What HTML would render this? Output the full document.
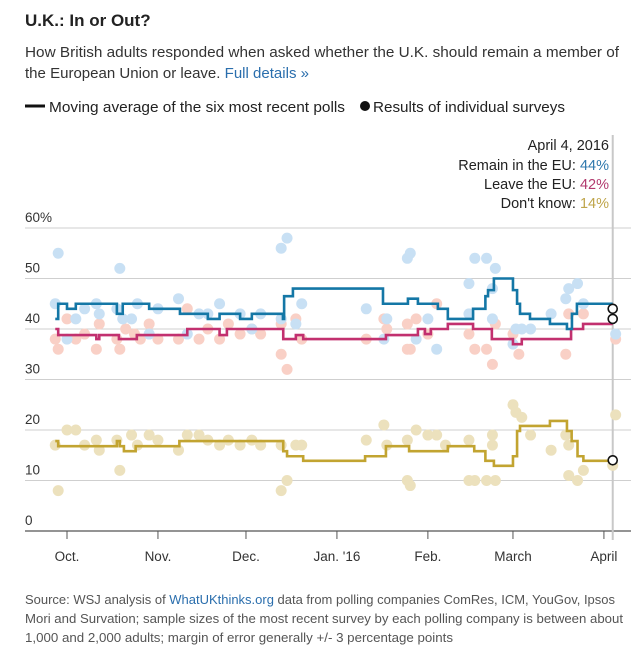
<!DOCTYPE html>
<html><head><meta charset="utf-8"><style>
html,body{margin:0;padding:0;background:#fff;width:640px;height:654px;overflow:hidden}
svg{display:block;font-family:"Liberation Sans",sans-serif}
</style></head><body>
<svg id="chart" width="640" height="654" viewBox="0 0 640 654">
<text x="25" y="26" font-size="17" font-weight="bold" fill="#222">U.K.: In or Out?</text>
<text x="25" y="57" font-size="14.5" fill="#333" textLength="594" lengthAdjust="spacingAndGlyphs">How British adults responded when asked whether the U.K. should remain a member of</text>
<text x="25" y="78" font-size="14.5" fill="#333" textLength="284" lengthAdjust="spacingAndGlyphs">the European Union or leave. <tspan fill="#2a6ead">Full details »</tspan></text>
<g>
<line x1="25" y1="106" x2="45" y2="106" stroke="#111" stroke-width="3"/>
<text x="49" y="112" font-size="14.5" fill="#222" textLength="296" lengthAdjust="spacingAndGlyphs">Moving average of the six most recent polls</text>
<circle cx="365" cy="106" r="5" fill="#111"/>
<text x="373" y="112" font-size="14.5" fill="#222" textLength="192" lengthAdjust="spacingAndGlyphs">Results of individual surveys</text>
</g>
<g font-size="14.5" fill="#222" text-anchor="end">
<text x="609" y="150">April 4, 2016</text>
<text x="609" y="170">Remain in the EU: <tspan fill="#2f78ad">44%</tspan></text>
<text x="609" y="189">Leave the EU: <tspan fill="#b23a6e">42%</tspan></text>
<text x="609" y="208">Don't know: <tspan fill="#bfa54a">14%</tspan></text>
</g>
<g id="plot"></g>
<g font-size="12.5" fill="#555">
<text x="25" y="604" textLength="590" lengthAdjust="spacingAndGlyphs">Source: WSJ analysis of <tspan fill="#2a6ead">WhatUKthinks.org</tspan> data from polling companies ComRes, ICM, YouGov, Ipsos</text>
<text x="25" y="623" textLength="598" lengthAdjust="spacingAndGlyphs">Mori and Survation; sample sizes of the most recent survey by each polling company is between about</text>
<text x="25" y="642" textLength="428" lengthAdjust="spacingAndGlyphs">1,000 and 2,000 adults; margin of error generally +/- 3 percentage points</text>
</g>
</svg>
<script>
// Days since Oct 1, 2015
const yTicks = [0,10,20,30,40,50,60];
const monthLabels = ["Oct.","Nov.","Dec.","Jan. '16","Feb.","March","April"];
const monthDays = [0,31,61,92,123,152,183];
const remainDays = [-4,-3,0,3,17,19,28,38.5,45,48,52,59,63,73.6,74,77,107.7,116.2,119.6,126.4,129.8,138.4,142.6,143.5,145.5,152,153.4,154.4,157.8,164.6,170.4,172.1,173.8];
const remainAvg = [42,45,44,45,43,45,44,43,43,42,43,42,43,42,46.5,48,45,46,45,44,42,44,46.5,47.7,50,47.7,45,43,42,41,40,43,45];
const leaveDays = [-4,-3,10,11,17.7,23.8,41,52,54.5,73.7,78,80.5,108.7,119.6,122,124,129.8,138.4,144.8,152,155,171.8,175.9];
const leaveAvg = [40,38.8,38,38.8,38,38.8,40,38.8,40,38,38.8,38,38.8,40,39,40,41,40,38,37,38,40,41];
const dkDays = [-4,-3,17,18,19.4,23.4,38.3,73.7,75,80.5,101.6,108.7,116.6,129.8,138.8,142.6,145.5,152,153.4,154.4,164.6,170.4,172,174,176];
const dkAvg = [17.8,16.8,17.8,16.8,15.8,16.8,17.8,15.8,14.8,13.9,14.8,16.8,15.8,16.8,15.8,13.9,12.9,14.8,19.8,20.8,21.8,19.8,17.8,14.8,13.9];
const endDay = 186;
const endValues = [44,42,14];
const remainDotDays = [-3,-4,3,0,6,10,11,18,17,19,22,24,28,31,38,41,45,48,52,59,63,66,73,75,73,78,80,102,108,109,116,117,119,123,126,137,137,139,143,145,146,145,152,153,155,158,165,170,171,174,176,187];
const remainDotVals = [55,45,42,38,44,45,43,52,44,42,42,45,39,44,46,39,43,43,45,43,40,43,56,58,42,41,45,44,38,42,54,55,38,42,36,49,43,54,54,48,52,42,37,40,40,40,43,46,48,49,45,39];
const leaveDotDays = [-4,-3,0,3,6,10,11,17,18,20,23,25,28,31,38,41,45,48,52,55,59,63,66,73,75,73,78,80,102,108,109,116,116,117,119,123,126,137,139,143,145,146,152,154,170,171,176,187];
const leaveDotVals = [38,36,42,38,39,36,41,38,36,40,39,38,41,38,38,44,38,40,38,41,39,40,39,35,32,41,42,38,38,42,40,41,36,36,42,39,45,39,36,36,33,41,39,35,35,43,43,38];
const dkDotDays = [-4,-3,0,3,6,10,11,17,18,22,24,28,31,38,41,45,48,52,55,59,63,66,73,73,75,78,80,102,108,109,116,116,117,119,123,126,129,137,137,139,143,145,145,146,152,153,155,158,165,170,171,171,174,176,187,186];
const dkDotVals = [17,8,20,20,17,18,16,18,12,19,17,19,18,16,19,19,18,17,18,17,18,17,17,8,10,17,17,18,21,17,18,10,9,20,19,19,17,18,10,10,10,19,17,10,25,23.5,22.5,19,16,19,17,11,10,12,23,13];

const NS = "http://www.w3.org/2000/svg";
const plot = document.getElementById('plot');
const X = d => 67 + 2.934 * d;
const Y = v => 531 - 5.05 * v;
function mk(tag, attrs, parent) {
  const e = document.createElementNS(NS, tag);
  for (const k in attrs) e.setAttribute(k, attrs[k]);
  (parent || plot).appendChild(e);
  return e;
}
// grid
yTicks.forEach((t, i) => {
  if (t > 0) {
    const g = mk('line', {x1: 25, x2: 631, y1: Y(t), y2: Y(t), stroke: '#cfcfcf', 'stroke-width': 1});
    
    
  }
  const lb = mk('text', {x: 25, y: Y(t) - 6, 'font-size': 13.5, fill: '#333'});
  lb.textContent = t === 60 ? '60%' : String(t);
  
  
});
// axis
const ax = mk('line', {x1: 25, x2: 631, y1: Y(0), y2: Y(0), stroke: '#555', 'stroke-width': 1.3});


monthDays.forEach((d, i) => {
  const tk = mk('line', {x1: X(d), x2: X(d), y1: Y(0), y2: Y(0) + 8, stroke: '#555', 'stroke-width': 1});
  
  
  const lb = mk('text', {x: X(d), y: 561, 'font-size': 13.5, fill: '#333', 'text-anchor': 'middle'});
  lb.textContent = monthLabels[i];
  
  
});
// date marker line
const vl = mk('line', {x1: X(endDay), x2: X(endDay), y1: 135, y2: 540, stroke: '#c8c8c8', 'stroke-width': 2});


// dots
function dots(days, vals, color, name) {
  days.forEach((d, i) => {
    const c = mk('circle', {cx: X(d), cy: Y(vals[i]), r: 5.5, fill: color});
    
    
  });
}
dots(dkDotDays, dkDotVals, '#ece1bd', 'dont-know-survey-dot');
dots(leaveDotDays, leaveDotVals, '#f9d0c6', 'leave-survey-dot');
dots(remainDotDays, remainDotVals, '#c8e0f4', 'remain-survey-dot');
// step lines
function step(days, vals, color, name) {
  let p = 'M' + X(days[0]) + ',' + Y(vals[0]);
  for (let i = 1; i < days.length; i++) {
    p += 'H' + X(days[i]) + 'V' + Y(vals[i]);
  }
  p += 'H' + X(endDay);
  const e = mk('path', {d: p, fill: 'none', stroke: color, 'stroke-width': 2.6});
  
  
}
step(dkDays, dkAvg, '#c2a431', 'dont-know-moving-average');
step(leaveDays, leaveAvg, '#c2306f', 'leave-moving-average');
step(remainDays, remainAvg, '#1477a6', 'remain-moving-average');
// end markers
const endNames = ['remain-end-marker', 'leave-end-marker', 'dont-know-end-marker'];
endValues.forEach((v, i) => {
  const c = mk('circle', {cx: X(endDay), cy: Y(v), r: 4.5, fill: '#fff', stroke: '#111', 'stroke-width': 1.6});
  
  
});
</script>
</body></html>
